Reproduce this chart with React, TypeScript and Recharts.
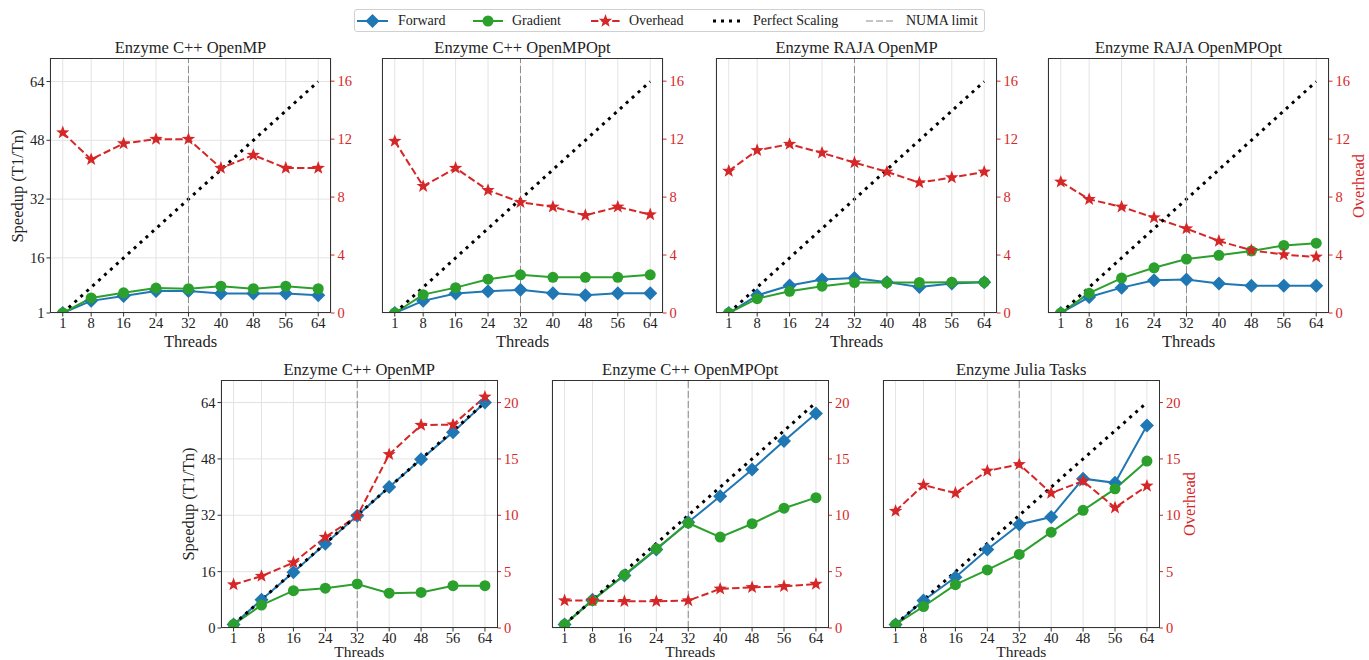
import { CartesianGrid, ComposedChart, Line, ReferenceLine, XAxis, YAxis } from "recharts"

const threads = [1, 8, 16, 24, 32, 40, 48, 56, 64]
const perfectScaling = [1, 8, 16, 24, 32, 40, 48, 56, 64]

// top row (speedup axis starts at 1, overhead axis 0-16)
const topCppOmpForward = [1, 4.3, 5.6, 7.0, 7.0, 6.3, 6.3, 6.3, 5.8]
const topCppOmpGradient = [1, 5.1, 6.5, 7.8, 7.6, 8.3, 7.6, 8.3, 7.6]
const topCppOmpOverhead = [12.45, 10.6, 11.7, 12.0, 12.0, 10.0, 10.9, 10.0, 10.0]

const topCppOptForward = [1, 4.3, 6.3, 6.9, 7.3, 6.4, 5.8, 6.4, 6.4]
const topCppOptGradient = [1, 6.0, 7.9, 10.2, 11.4, 10.7, 10.7, 10.7, 11.4]
const topCppOptOverhead = [11.86, 8.75, 10.0, 8.47, 7.64, 7.32, 6.74, 7.32, 6.79]

const topRajaOmpForward = [1, 5.8, 8.5, 10.1, 10.5, 9.4, 8.1, 9.0, 9.4]
const topRajaOmpGradient = [1, 4.9, 6.9, 8.3, 9.3, 9.3, 9.3, 9.4, 9.4]
const topRajaOmpOverhead = [9.8, 11.23, 11.65, 11.05, 10.38, 9.74, 9.0, 9.35, 9.74]

const topRajaOptForward = [1, 5.35, 7.9, 9.9, 10.1, 9.0, 8.4, 8.4, 8.4]
const topRajaOptGradient = [1, 6.4, 10.5, 13.3, 15.7, 16.7, 17.9, 19.4, 20.0]
const topRajaOptOverhead = [9.05, 7.85, 7.32, 6.58, 5.82, 4.97, 4.33, 4.03, 3.87]

// bottom row (speedup axis 0-64, overhead axis 0-20)
const botCppOmpForward = [1, 8.0, 15.8, 23.9, 31.9, 40.0, 47.9, 55.6, 64]
const botCppOmpGradient = [1, 6.5, 10.6, 11.3, 12.5, 9.9, 10.1, 12.0, 12.0]
const botCppOmpOverhead = [3.85, 4.6, 5.8, 8.06, 9.93, 15.4, 18.0, 18.04, 20.5]

const botCppOptForward = [1, 8.0, 14.9, 22.3, 30.0, 37.4, 45.0, 53.1, 60.9]
const botCppOptGradient = [1, 7.8, 15.1, 22.5, 29.8, 25.8, 29.6, 34.0, 37.0]
const botCppOptOverhead = [2.43, 2.43, 2.37, 2.37, 2.43, 3.47, 3.6, 3.7, 3.9]

const botJuliaForward = [1, 7.8, 14.4, 22.3, 29.4, 31.5, 42.4, 41.2, 57.5]
const botJuliaGradient = [1, 6.1, 12.3, 16.5, 20.9, 27.2, 33.4, 39.5, 47.4]
const botJuliaOverhead = [10.37, 12.68, 11.97, 13.93, 14.52, 11.97, 13.04, 10.67, 12.6]

const topLeftTicks = [1, 16, 32, 48, 64]
const topRightTicks = [0, 4, 8, 12, 16]
const botLeftTicks = [0, 16, 32, 48, 64]
const botRightTicks = [0, 5, 10, 15, 20]

const BLUE = "#1f77b4"
const GREEN = "#2ca02c"
const RED = "#d62728"
const FONT = "'Liberation Serif', serif"
const AW = 40
const XH = 40

function diamondDot(p: any) {
  const { cx, cy, index } = p
  if (cx == null || cy == null) return <g key={`d${index}`} />
  const r = 7
  return (
    <polygon
      key={`d${index}`}
      points={`${cx},${cy - r} ${cx + r},${cy} ${cx},${cy + r} ${cx - r},${cy}`}
      fill={BLUE}
    />
  )
}

function circleDot(p: any) {
  const { cx, cy, index } = p
  if (cx == null || cy == null) return <g key={`c${index}`} />
  return <circle key={`c${index}`} cx={cx} cy={cy} r={5.5} fill={GREEN} />
}

function starPoints(cx: number, cy: number, ro: number, ri: number) {
  const pts: string[] = []
  for (let k = 0; k < 10; k++) {
    const rr = k % 2 === 0 ? ro : ri
    const a = -Math.PI / 2 + (k * Math.PI) / 5
    pts.push(`${cx + rr * Math.cos(a)},${cy + rr * Math.sin(a)}`)
  }
  return pts.join(" ")
}

function starDot(p: any) {
  const { cx, cy, index } = p
  if (cx == null || cy == null) return <g key={`s${index}`} />
  return <polygon key={`s${index}`} points={starPoints(cx, cy, 7, 2.9)} fill={RED} />
}

function Txt({ x, y, text, size, color = "#222", rotate = false }: any) {
  return (
    <div
      style={{
        position: "absolute",
        left: x,
        top: y,
        transform: `translate(-50%, -50%)${rotate ? " rotate(-90deg)" : ""}`,
        whiteSpace: "nowrap",
        fontSize: size,
        lineHeight: 1,
        color,
        fontFamily: FONT,
      }}
    >
      {text}
    </div>
  )
}

type PanelProps = {
  title: string
  left: number
  top: number
  w: number
  h: number
  forward: number[]
  gradient: number[]
  overhead: number[]
  yMin: number
  leftTicks: number[]
  rightMax: number
  rightTicks: number[]
  leftLabels?: boolean
  speedupLabel?: boolean
  overheadLabel?: boolean
  xTickMargin: number
  xLabelGap: number
  xLabelSize: number
}

function Panel(props: PanelProps) {
  const { title, left, top, w, h, forward, gradient, overhead, yMin, leftTicks, rightMax, rightTicks } = props
  const rows = threads.map((t, i) => ({
    t,
    forward: forward[i],
    gradient: gradient[i],
    overhead: overhead[i],
    perfect: perfectScaling[i],
  }))
  const tickStyle = { fill: "#222", fontSize: 14.5, fontFamily: FONT }
  return (
    <>
      <div style={{ position: "absolute", left: left - AW, top }}>
        <ComposedChart width={w + 2 * AW} height={h + XH} data={rows} margin={{ top: 0, right: 0, bottom: 0, left: 0 }}>
          <CartesianGrid yAxisId="l" stroke="#e3e3e3" strokeWidth={1} />
          <XAxis
            dataKey="t"
            type="number"
            domain={[-2.15, 67.15]}
            ticks={threads}
            allowDataOverflow
            height={XH}
            axisLine={false}
            tickSize={3.5}
            tickMargin={props.xTickMargin}
            tickLine={{ stroke: "#333" }}
            tick={tickStyle}
            interval={0}
          />
          <YAxis
            yAxisId="l"
            type="number"
            domain={[yMin, 70.4]}
            ticks={leftTicks}
            allowDataOverflow
            width={AW}
            axisLine={false}
            tickSize={3.5}
            tickMargin={2}
            tickLine={{ stroke: "#333" }}
            tick={props.leftLabels ? tickStyle : false}
            interval={0}
          />
          <YAxis
            yAxisId="r"
            orientation="right"
            type="number"
            domain={[0, rightMax]}
            ticks={rightTicks}
            allowDataOverflow
            width={AW}
            axisLine={false}
            tickSize={3.5}
            tickMargin={3}
            tickLine={{ stroke: RED }}
            tick={{ ...tickStyle, fill: RED }}
            interval={0}
          />
          <Line
            yAxisId="l"
            dataKey="forward"
            stroke={BLUE}
            strokeWidth={2}
            dot={diamondDot}
            activeDot={false}
            isAnimationActive={false}
          />
          <Line
            yAxisId="l"
            dataKey="gradient"
            stroke={GREEN}
            strokeWidth={2}
            dot={circleDot}
            activeDot={false}
            isAnimationActive={false}
          />
          <Line
            yAxisId="r"
            dataKey="overhead"
            stroke={RED}
            strokeWidth={2}
            strokeDasharray="7.4 3.2"
            dot={starDot}
            activeDot={false}
            isAnimationActive={false}
          />
          <Line
            yAxisId="l"
            dataKey="perfect"
            stroke="#000"
            strokeWidth={3}
            strokeDasharray="3 5"
            dot={false}
            activeDot={false}
            isAnimationActive={false}
          />
          <ReferenceLine yAxisId="l" x={32} stroke="#8a8a8a" strokeWidth={1} strokeDasharray="7 3" />
        </ComposedChart>
      </div>
      <div
        style={{
          position: "absolute",
          left,
          top,
          width: w,
          height: h,
          border: "1.25px solid #333",
          boxSizing: "border-box",
          pointerEvents: "none",
        }}
      />
      <Txt x={left + w / 2} y={top - 10} text={title} size={16.5} />
      <Txt x={left + w / 2} y={top + h + props.xLabelGap} text="Threads" size={props.xLabelSize} />
      {props.speedupLabel && <Txt x={left - 32} y={top + h / 2} text="Speedup (T1/Tn)" size={16.5} rotate />}
      {props.overheadLabel && <Txt x={left + w + 30} y={top + h / 2} text="Overhead" size={16.5} color={RED} rotate />}
    </>
  )
}

function Legend() {
  const cy = 20.5
  const iconStyle = (x: number): any => ({ position: "absolute", left: x, top: cy - 10 })
  const textStyle = (x: number): any => ({
    position: "absolute",
    left: x,
    top: cy,
    transform: "translateY(-50%)",
    fontSize: 14,
    lineHeight: 1,
    fontFamily: FONT,
    color: "#222",
    whiteSpace: "nowrap",
  })
  return (
    <>
      <div
        style={{
          position: "absolute",
          left: 354,
          top: 9,
          width: 631,
          height: 23,
          border: "1px solid #d0d0d0",
          borderRadius: 3,
          boxSizing: "border-box",
          background: "#fff",
        }}
      />
      <svg width={32} height={20} style={iconStyle(357)}>
        <line x1={0} y1={10} x2={31} y2={10} stroke={BLUE} strokeWidth={2} />
        <polygon points="15.5,3 22.5,10 15.5,17 8.5,10" fill={BLUE} />
      </svg>
      <div style={textStyle(398)}>Forward</div>
      <svg width={32} height={20} style={iconStyle(473)}>
        <line x1={0} y1={10} x2={30} y2={10} stroke={GREEN} strokeWidth={2} />
        <circle cx={15} cy={10} r={5.5} fill={GREEN} />
      </svg>
      <div style={textStyle(512)}>Gradient</div>
      <svg width={32} height={20} style={iconStyle(591)}>
        <line x1={0} y1={10} x2={29} y2={10} stroke={RED} strokeWidth={2} strokeDasharray="7.4 3.2" />
        <polygon points={starPoints(14.5, 10, 7, 2.9)} fill={RED} />
      </svg>
      <div style={textStyle(629)}>Overhead</div>
      <svg width={32} height={20} style={iconStyle(713)}>
        <line x1={0} y1={10} x2={27} y2={10} stroke="#000" strokeWidth={3} strokeDasharray="3 5" />
      </svg>
      <div style={textStyle(753)}>Perfect Scaling</div>
      <svg width={32} height={20} style={iconStyle(866)}>
        <line x1={0} y1={10} x2={28} y2={10} stroke="#8a8a8a" strokeWidth={1} strokeDasharray="7 3" />
      </svg>
      <div style={textStyle(906)}>NUMA limit</div>
    </>
  )
}

export default function App() {
  const topCommon = {
    top: 58,
    w: 281,
    h: 255,
    yMin: 1,
    leftTicks: topLeftTicks,
    rightMax: 17.6,
    rightTicks: topRightTicks,
    xTickMargin: 1.5,
    xLabelGap: 28.7,
    xLabelSize: 16.5,
  }
  const botCommon = {
    top: 379.5,
    w: 276.5,
    h: 248,
    yMin: 0,
    leftTicks: botLeftTicks,
    rightMax: 22,
    rightTicks: botRightTicks,
    xTickMargin: 1.5,
    xLabelGap: 24.5,
    xLabelSize: 15.5,
  }
  return (
    <div
      style={{
        position: "absolute",
        left: 0,
        top: 0,
        width: 1369,
        height: 660,
        overflow: "hidden",
        background: "#fff",
        fontFamily: FONT,
      }}
    >
      <Legend />
      <Panel
        {...topCommon}
        title="Enzyme C++ OpenMP"
        left={50}
        forward={topCppOmpForward}
        gradient={topCppOmpGradient}
        overhead={topCppOmpOverhead}
        leftLabels
        speedupLabel
      />
      <Panel
        {...topCommon}
        title="Enzyme C++ OpenMPOpt"
        left={382}
        forward={topCppOptForward}
        gradient={topCppOptGradient}
        overhead={topCppOptOverhead}
      />
      <Panel
        {...topCommon}
        title="Enzyme RAJA OpenMP"
        left={716}
        forward={topRajaOmpForward}
        gradient={topRajaOmpGradient}
        overhead={topRajaOmpOverhead}
      />
      <Panel
        {...topCommon}
        title="Enzyme RAJA OpenMPOpt"
        left={1048}
        forward={topRajaOptForward}
        gradient={topRajaOptGradient}
        overhead={topRajaOptOverhead}
        overheadLabel
      />
      <Panel
        {...botCommon}
        title="Enzyme C++ OpenMP"
        left={221}
        forward={botCppOmpForward}
        gradient={botCppOmpGradient}
        overhead={botCppOmpOverhead}
        leftLabels
        speedupLabel
      />
      <Panel
        {...botCommon}
        title="Enzyme C++ OpenMPOpt"
        left={552}
        forward={botCppOptForward}
        gradient={botCppOptGradient}
        overhead={botCppOptOverhead}
      />
      <Panel
        {...botCommon}
        title="Enzyme Julia Tasks"
        left={883}
        forward={botJuliaForward}
        gradient={botJuliaGradient}
        overhead={botJuliaOverhead}
        overheadLabel
      />
    </div>
  )
}
